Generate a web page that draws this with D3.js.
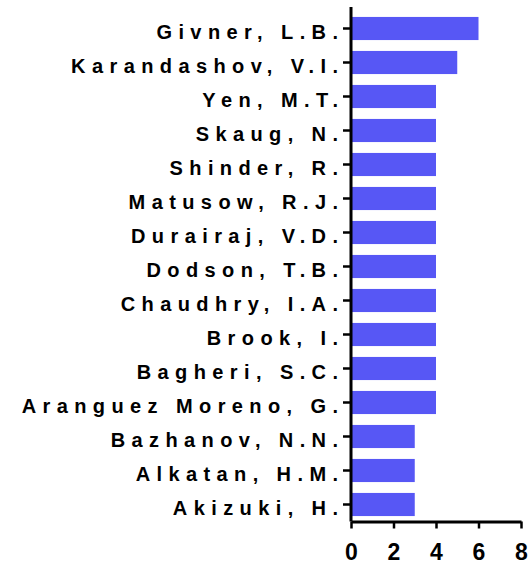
<!DOCTYPE html>
<html>
<head>
<meta charset="utf-8">
<script src="https://cdn.jsdelivr.net/npm/d3@7"></script>
<style>
  body { margin: 0; background: #fff; }
  svg { display: block; }
</style>
</head>
<body>
<script>
// authors and number of papers, top to bottom
var authors = [
    "Givner, L.B.", "Karandashov, V.I.", "Yen, M.T.", "Skaug, N.", "Shinder, R.",
    "Matusow, R.J.", "Durairaj, V.D.", "Dodson, T.B.", "Chaudhry, I.A.", "Brook, I.",
    "Bagheri, S.C.", "Aranguez Moreno, G.", "Bazhanov, N.N.", "Alkatan, H.M.", "Akizuki, H."
];
var counts = [6, 5, 4, 4, 4, 4, 4, 4, 4, 4, 4, 4, 3, 3, 3];
var xTicks = [0, 2, 4, 6, 8];

var width = 528, height = 566;
var x0 = 351, x1 = 521, yTop = 11.5, yBottom = 521.5;
var spacing = 6.4;

var svg = d3.select("body").append("svg")
    .attr("width", width)
    .attr("height", height);

var x = d3.scaleLinear().domain([0, 8]).range([x0, x1]);
var y = d3.scaleBand().domain(authors).range([yTop, yBottom])
    .paddingInner(0.32).paddingOuter(0.16);

// bars
svg.selectAll("rect.bar")
    .data(authors)
    .enter().append("rect")
    .attr("class", "bar")
    .attr("x", x(0))
    .attr("y", d => y(d))
    .attr("width", (d, i) => x(counts[i]) - x(0))
    .attr("height", y.bandwidth())
    .attr("fill", "#5757f5");

// y axis
var yAxis = svg.append("g")
    .attr("transform", `translate(${x0},0)`)
    .call(d3.axisLeft(y).tickSize(8).tickPadding(5));
yAxis.select(".domain").remove();
yAxis.selectAll(".tick line").attr("stroke", "#000").attr("stroke-width", 2.5);
yAxis.selectAll(".tick text")
    .attr("x", -13 + spacing)   // letter-spacing leaves a gap after the last glyph
    .attr("dy", "0.52em")
    .attr("font-family", "Liberation Sans, Arial, sans-serif")
    .attr("font-weight", "bold")
    .attr("font-size", 20)
    .attr("letter-spacing", spacing + "px")
    .attr("fill", "#000");

svg.append("line")
    .attr("x1", x0).attr("x2", x0)
    .attr("y1", 7).attr("y2", yBottom)
    .attr("stroke", "#000").attr("stroke-width", 3);

// x axis
var xAxis = svg.append("g")
    .attr("transform", `translate(0,${yBottom})`)
    .call(d3.axisBottom(x).tickValues(xTicks).tickSize(7).tickPadding(15).tickSizeOuter(0));
xAxis.select(".domain").attr("stroke", "#000").attr("stroke-width", 3);
xAxis.selectAll(".tick line").attr("stroke", "#000").attr("stroke-width", 2.5);
xAxis.selectAll(".tick text")
    .attr("font-family", "Liberation Sans, Arial, sans-serif")
    .attr("font-weight", "bold")
    .attr("font-size", 23)
    .attr("fill", "#000");
</script>
</body>
</html>
